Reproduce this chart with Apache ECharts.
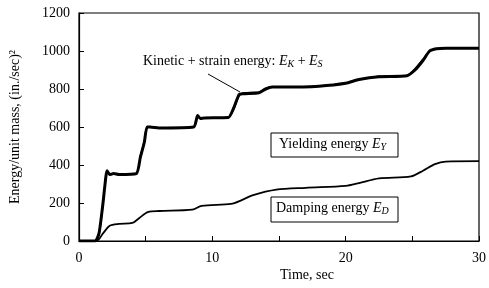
<!DOCTYPE html>
<html>
<head>
<meta charset="utf-8">
<script src="https://cdn.jsdelivr.net/npm/echarts@6/dist/echarts.min.js"></script>
<style>
  html, body { margin: 0; padding: 0; background: #fff; }
  #chart { width: 489px; height: 288px; }
</style>
</head>
<body>
<div id="chart"></div>
<script>
// values
const xTicks = [0, 10, 20, 30];
const yTicks = [0, 200, 400, 600, 800, 1000, 1200];

// input energy (thick curve)
const inputTime = [0, 1.2, 1.5, 1.8, 2.0, 2.1, 2.3, 2.6, 3.0, 4.3, 4.6, 4.9, 5.1, 5.3, 6.0, 8.6, 8.9, 9.1, 9.4, 11.2, 11.6, 12.0, 12.3, 13.5, 14.0, 14.5, 15.5, 18.0, 20.0, 21.0, 22.5, 24.6, 25.2, 25.8, 26.3, 26.8, 27.5, 30.0];
const inputEnergy = [0, 0, 40, 200, 330, 370, 350, 355, 350, 355, 440, 520, 600, 600, 595, 600, 660, 645, 648, 650, 700, 770, 775, 780, 800, 810, 810, 815, 830, 850, 865, 870, 900, 950, 1000, 1012, 1015, 1015];
// sum of kinetic + strain + yielding + damping (thin curve on top)
const sumEnergy = [0, 0, 30, 185, 340, 362, 346, 352, 350, 351, 450, 530, 592, 604, 596, 600, 652, 648, 648, 650, 690, 762, 780, 784, 804, 812, 811, 816, 832, 848, 868, 871, 908, 958, 1003, 1010, 1015, 1015];

// damping energy
const dampTime = [0, 1.3, 1.8, 2.3, 3.0, 4.0, 4.5, 5.2, 6.0, 8.5, 9.2, 11.4, 12.2, 13.0, 14.8, 17.0, 20.0, 21.0, 22.5, 24.9, 25.8, 26.7, 27.5, 30.0];
const dampEnergy = [0, 0, 40, 80, 90, 95, 120, 153, 158, 165, 185, 195, 215, 240, 270, 280, 290, 305, 330, 340, 370, 405, 418, 420];

const pair = (xs, ys) => xs.map((x, i) => [x, ys[i]]);

const serif = 'Liberation Serif';
const ink = '#000';

// rich styles for labels with italic symbols and subscripts
const richText = {
    n: { fontFamily: serif, fontSize: 14, fill: ink, lineHeight: 17 },
    i: { fontFamily: serif, fontSize: 14, fontStyle: 'italic', fill: ink, lineHeight: 17 },
    s: { fontFamily: serif, fontSize: 10, fontStyle: 'italic', fill: ink, lineHeight: 17, padding: [6, 0, 0, 0] },
};

const chart = echarts.init(document.getElementById('chart'));

const option = {
    animation: false,
    grid: {
        left: 79,
        top: 13,
        right: 8,
        bottom: 47,
        show: true,
        borderColor: ink,
        borderWidth: 1.2,
    },
    xAxis: {
        type: 'value',
        min: 0,
        max: 30,
        interval: 5,
        axisLine: { lineStyle: { color: ink, width: 1.2 } },
        axisTick: { inside: true, length: 5, lineStyle: { color: ink } },
        splitLine: { show: false },
        axisLabel: {
            margin: 10,
            color: ink,
            fontFamily: serif,
            fontSize: 14,
            formatter: v => (xTicks.includes(v) ? String(v) : ''),
        },
    },
    yAxis: {
        type: 'value',
        min: 0,
        max: 1200,
        interval: 200,
        name: 'Energy/unit mass, (in./sec)²',
        nameLocation: 'middle',
        nameGap: 57,
        nameTextStyle: { color: ink, fontFamily: serif, fontSize: 14 },
        axisLine: { show: true, lineStyle: { color: ink, width: 1.2 } },
        axisTick: { show: true, inside: true, length: 5, lineStyle: { color: ink } },
        splitLine: { show: false },
        axisLabel: {
            margin: 9,
            color: ink,
            fontFamily: serif,
            fontSize: 14,
            formatter: v => (yTicks.includes(v) ? String(v) : ''),
        },
    },
    series: [
        {
            name: 'input',
            type: 'line',
            data: pair(inputTime, inputEnergy),
            showSymbol: false,
            smooth: 0.2,
            lineStyle: { color: ink, width: 3 },
            z: 2,
        },
        {
            name: 'sum',
            type: 'line',
            data: pair(inputTime, sumEnergy),
            showSymbol: false,
            smooth: 0.2,
            lineStyle: { color: ink, width: 1.2 },
            z: 3,
        },
        {
            name: 'damping',
            type: 'line',
            data: pair(dampTime, dampEnergy),
            showSymbol: false,
            smooth: 0.3,
            lineStyle: { color: ink, width: 1.8 },
        },
    ],
    graphic: [
        // Kinetic + strain label with leader
        {
            type: 'text',
            left: 143,
            top: 53,
            style: {
                text: '{n|Kinetic + strain energy: }{i|E}{s|K}{n| + }{i|E}{s|S}',
                rich: richText,
            },
        },
        {
            type: 'line',
            shape: { x1: 208, y1: 74, x2: 240, y2: 92 },
            style: { stroke: ink, lineWidth: 1 },
        },
        // Yielding box
        {
            type: 'rect',
            shape: { x: 271, y: 133, width: 127, height: 24 },
            style: { fill: '#fff', stroke: ink, lineWidth: 1 },
        },
        {
            type: 'text',
            left: 279,
            top: 136,
            style: { text: '{n|Yielding energy }{i|E}{s|Y}', rich: richText },
        },
        // Damping box
        {
            type: 'rect',
            shape: { x: 271, y: 197, width: 127, height: 25 },
            style: { fill: '#fff', stroke: ink, lineWidth: 1 },
        },
        {
            type: 'text',
            left: 276,
            top: 200,
            style: { text: '{n|Damping energy }{i|E}{s|D}', rich: richText },
        },
        // x axis title
        {
            type: 'text',
            left: 280,
            top: 268,
            style: { text: 'Time, sec', fontFamily: serif, fontSize: 14, fill: ink },
        },
    ],
};

chart.setOption(option);
</script>
</body>
</html>
